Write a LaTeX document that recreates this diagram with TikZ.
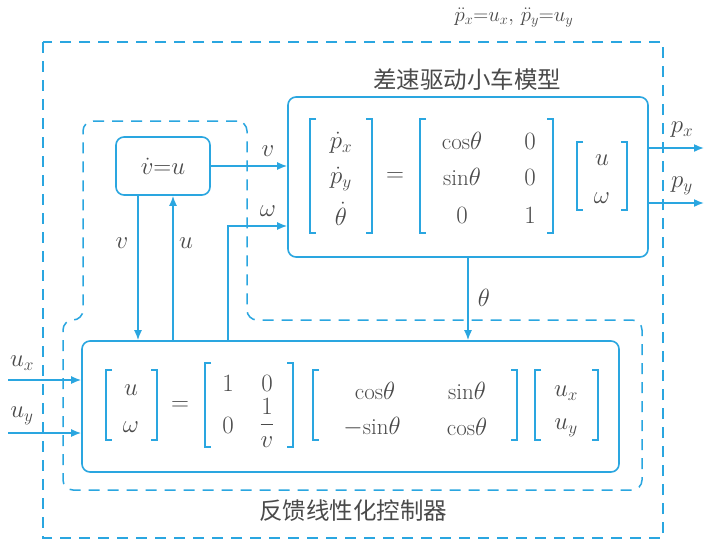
\documentclass[tikz,border=0pt]{standalone}
\usepackage{fontspec}
\usepackage{amsmath}
\newfontfamily\cjk{Noto Sans CJK SC}
\usetikzlibrary{arrows.meta}
\definecolor{lc}{HTML}{2AA6E0}
\definecolor{tc}{HTML}{4A4A4A}
\newcommand\lbrk[3]{\draw[brk] (#1+6,#2) -- (#1,#2) -- (#1,#3) -- (#1+6,#3);}
\newcommand\rbrk[3]{\draw[brk] (#1-6,#2) -- (#1,#2) -- (#1,#3) -- (#1-6,#3);}
\begin{document}
\begin{tikzpicture}[x=1pt,y=-1pt,
  box/.style={draw=lc, line width=1.6pt, rounded corners=8pt, inner sep=0pt},
  conn/.style={draw=lc, line width=1.6pt, -{Latex[length=10pt,width=8pt]}},
  dsh/.style={draw=lc, line width=1.5pt, dash pattern=on 11pt off 8pt},
  txt/.style={text=tc, font=\fontsize{23}{27}\selectfont, inner sep=0pt},
  cjkt/.style={text=tc, font=\cjk\fontsize{23.5}{27}\selectfont, inner sep=0pt},
  brk/.style={draw=lc, line width=1.5pt}]
\useasboundingbox (0,0) rectangle (708,547);
\fill[white] (0,0) rectangle (708,547);

% dashed regions
\draw[dsh] (43,42) rectangle (663,538);
\draw[dsh, rounded corners=10pt] (247,121) -- (83,121) -- (83,320) -- (63,320) -- (63,490) -- (642,490) -- (642,320) -- (247,320) -- cycle;

% top label
\node[txt, font=\fontsize{21}{24}\selectfont] (toplbl) at (514,18) {$\ddot{p}_x{=}u_x,\,\ddot{p}_y{=}u_y$};

% boxes
\node[box, txt, draw=lc, minimum width=94pt, minimum height=58pt] (vu) at (163,166) {$\dot{v}{=}u$};
\node[box, minimum width=360pt, minimum height=160pt] (model) at (468,177) {};
\node[box, minimum width=537pt, minimum height=131pt] (ctrl) at (350.5,406.5) {};

\node[cjkt] (mtitle) at (467,80) {差速驱动小车模型};
\node[cjkt] (ctitle) at (353,511) {反馈线性化控制器};

% model equation
\lbrk{310}{119}{233} \rbrk{372}{119}{233}
\node[txt] (m11) at (341,143) {$\dot{p}_x$};
\node[txt] (m12) at (341,179) {$\dot{p}_y$};
\node[txt] (m13) at (341,214) {$\dot{\theta}$};
\node[txt] (meq) at (395,177) {$=$};
\lbrk{420}{119}{233} \rbrk{553}{119}{233}
\node[txt] (a11) at (462,141) {$\mathrm{cos}\theta$};
\node[txt] (a12) at (530,141) {$0$};
\node[txt] (a21) at (462,177) {$\mathrm{sin}\theta$};
\node[txt] (a22) at (530,177) {$0$};
\node[txt] (a31) at (462,215) {$0$};
\node[txt] (a32) at (530,215) {$1$};
\lbrk{577}{142}{210} \rbrk{627}{142}{210}
\node[txt] (b1) at (602,160) {$u$};
\node[txt] (b2) at (602,198) {$\omega$};

% controller equation
\lbrk{106}{370}{440} \rbrk{157}{370}{440}
\node[txt] (c1) at (131,390) {$u$};
\node[txt] (c2) at (131,427) {$\omega$};
\node[txt] (ceq) at (180,406) {$=$};
\lbrk{205}{363}{447} \rbrk{293}{363}{447}
\node[txt] (d11) at (228,383) {$1$};
\node[txt] (d12) at (267,383) {$0$};
\node[txt] (d21) at (228,425) {$0$};
\node[txt] (d22) at (267,423) {$\dfrac{1}{v}$};
\lbrk{313}{370}{440} \rbrk{517}{370}{440}
\node[txt] (e11) at (375,391) {$\mathrm{cos}\theta$};
\node[txt] (e12) at (467,391) {$\mathrm{sin}\theta$};
\node[txt] (e21) at (372,427) {$-\mathrm{sin}\theta$};
\node[txt] (e22) at (467,427) {$\mathrm{cos}\theta$};
\lbrk{535}{370}{440} \rbrk{598}{370}{440}
\node[txt] (f1) at (566,393) {$u_x$};
\node[txt] (f2) at (566,428) {$u_y$};

% connectors
\draw[conn] (vu.east) -- (model.west |- vu.east);
\node[txt] (lv1) at (268,151) {$v$};
\draw[conn] (ctrl.north -| 228,0) |- (model.west |- 0,226);
\node[txt] (lw1) at (268,211) {$\omega$};
\draw[conn] (vu.south -| 138,0) -- (ctrl.north -| 138,0);
\node[txt] (lv2) at (122,243) {$v$};
\draw[conn] (ctrl.north -| 173,0) -- (vu.south -| 173,0);
\node[txt] (lu2) at (186,243) {$u$};
\draw[conn] (model.south -| 468,0) -- (ctrl.north -| 468,0);
\node[txt] (lth) at (484,298) {$\theta$};

\coordinate (px) at (704,148);
\coordinate (py) at (704,203);
\draw[conn] (model.east |- px) -- (px);
\draw[conn] (model.east |- py) -- (py);
\node[txt] (lpx) at (682,130) {$p_x$};
\node[txt] (lpy) at (682,186) {$p_y$};

\coordinate (ux) at (8,380);
\coordinate (uy) at (8,433);
\draw[conn] (ux) -- (ctrl.west |- ux);
\draw[conn] (uy) -- (ctrl.west |- uy);
\node[txt] (lux) at (22,363) {$u_x$};
\node[txt] (luy) at (22,416) {$u_y$};
\end{tikzpicture}
\end{document}
